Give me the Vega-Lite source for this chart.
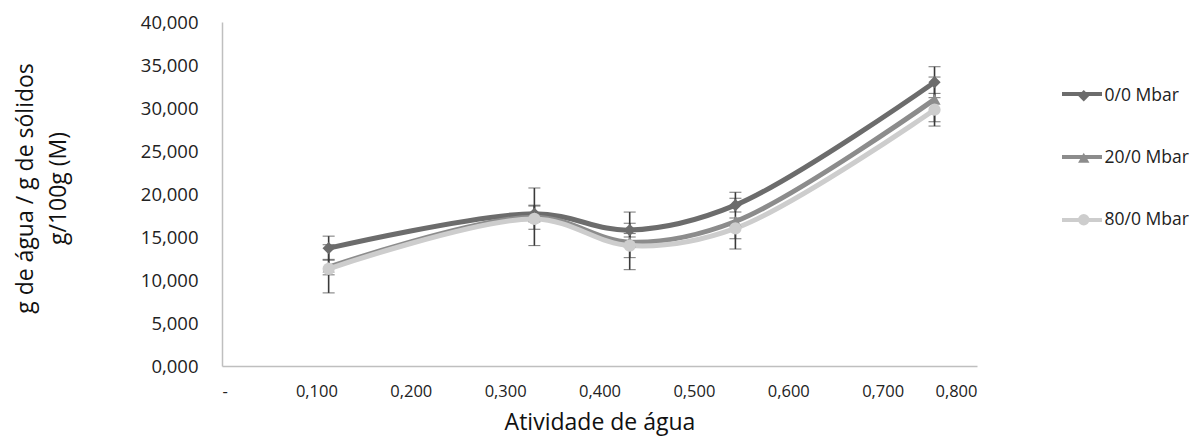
{
  "$schema": "https://vega.github.io/schema/vega-lite/v6.json",
  "width": 755,
  "height": 344,
  "autosize": {"type": "none"},
  "padding": {"left": 222, "top": 22, "right": 214, "bottom": 70},
  "background": "white",
  "config": {
    "view": {"stroke": null},
    "font": "Open Sans",
    "axis": {"grid": false, "ticks": false, "domainColor": "#bfbfbf", "domainWidth": 1.5, "labelColor": "#222", "titleColor": "#111", "labelFontSize": 16.5, "titleFontSize": 23, "titleFontWeight": "normal"}
  },
  "data": {"values": [
    {"aw": 0.113, "serie": "0/0 Mbar", "M": 13.7, "lo": 12.3, "hi": 15.1},
    {"aw": 0.331, "serie": "0/0 Mbar", "M": 17.7, "lo": 16.8, "hi": 18.6},
    {"aw": 0.432, "serie": "0/0 Mbar", "M": 15.8, "lo": 15.0, "hi": 16.6},
    {"aw": 0.544, "serie": "0/0 Mbar", "M": 18.7, "lo": 17.9, "hi": 19.5},
    {"aw": 0.755, "serie": "0/0 Mbar", "M": 33.0, "lo": 31.2, "hi": 34.8},
    {"aw": 0.113, "serie": "20/0 Mbar", "M": 11.5, "lo": 10.6, "hi": 12.4},
    {"aw": 0.331, "serie": "20/0 Mbar", "M": 17.3, "lo": 15.9, "hi": 18.7},
    {"aw": 0.432, "serie": "20/0 Mbar", "M": 14.4, "lo": 11.2, "hi": 17.9},
    {"aw": 0.544, "serie": "20/0 Mbar", "M": 16.8, "lo": 13.6, "hi": 20.2},
    {"aw": 0.755, "serie": "20/0 Mbar", "M": 31.0, "lo": 28.4, "hi": 33.6},
    {"aw": 0.113, "serie": "80/0 Mbar", "M": 11.3, "lo": 8.5, "hi": 14.1},
    {"aw": 0.331, "serie": "80/0 Mbar", "M": 17.1, "lo": 14.0, "hi": 20.7},
    {"aw": 0.432, "serie": "80/0 Mbar", "M": 14.0, "lo": 12.6, "hi": 15.4},
    {"aw": 0.544, "serie": "80/0 Mbar", "M": 16.0, "lo": 14.8, "hi": 17.2},
    {"aw": 0.755, "serie": "80/0 Mbar", "M": 29.8, "lo": 27.9, "hi": 31.7}
  ]},
  "encoding": {
    "x": {"field": "aw", "type": "quantitative",
      "scale": {"domain": [0, 0.8], "nice": false, "zero": true},
      "axis": {"values": [0, 0.1, 0.2, 0.3, 0.4, 0.5, 0.6, 0.7, 0.8], "labelPadding": 17, "titlePadding": 12,
        "labelExpr": "datum.value == 0 ? '-' : replace(format(datum.value, '.3f'), '.', ',')",
        "title": "Atividade de água"}}
  },
  "layer": [
    {
      "mark": {"type": "errorbar", "ticks": {"size": 12, "color": "#3a3a3a", "strokeWidth": 1.6}, "rule": {"color": "#3a3a3a", "strokeWidth": 1.6}},
      "encoding": {
        "y": {"field": "lo", "type": "quantitative", "scale": {"domain": [0, 40], "nice": false},
          "axis": {"values": [0, 5, 10, 15, 20, 25, 30, 35, 40], "labelPadding": 24, "labelFontSize": 18.5,
            "labelExpr": "replace(format(datum.value, '.3f'), '.', ',')",
            "title": ["g de água / g de sólidos", "g/100g (M)"], "titleAngle": -90, "titleX": -197, "titleY": 166, "titleAlign": "center", "titleBaseline": "middle", "titleLineHeight": 33}},
        "y2": {"field": "hi"}
      }
    },
    {
      "mark": {"type": "line", "interpolate": "catmull-rom", "strokeWidth": 5},
      "encoding": {
        "y": {"field": "M", "type": "quantitative"},
        "stroke": {"field": "serie", "type": "nominal",
          "scale": {"domain": ["0/0 Mbar", "20/0 Mbar", "80/0 Mbar"], "range": ["#6c6c6c", "#8c8c8c", "#cdcdcd"]},
          "legend": {"title": null, "orient": "none", "legendX": 838, "legendY": 50, "zindex": 1, "symbolType": "stroke", "symbolSize": 1600, "symbolStrokeWidth": 4, "labelFontSize": 17, "labelExpr": "''", "rowPadding": 33, "labelOffset": 0, "symbolOffset": 0}}
      }
    },
    {
      "mark": {"type": "point", "filled": true, "size": 150, "opacity": 1},
      "encoding": {
        "y": {"field": "M", "type": "quantitative"},
        "color": {"field": "serie", "type": "nominal",
          "scale": {"range": ["#6c6c6c", "#8c8c8c", "#cdcdcd"]},
          "legend": {"title": null, "orient": "none", "legendX": 853, "legendY": 65, "zindex": 2, "symbolSize": 130, "symbolOpacity": 1, "labelFontSize": 17.5, "labelColor": "#222", "rowPadding": 43, "labelOffset": 12, "symbolOffset": 0}},
        "shape": {"field": "serie", "type": "nominal",
          "scale": {"range": ["diamond", "triangle-up", "circle"]},
          "legend": {"title": null, "orient": "none", "legendX": 853, "legendY": 65, "zindex": 2, "symbolSize": 130, "symbolOpacity": 1, "labelFontSize": 17.5, "labelColor": "#222", "rowPadding": 43, "labelOffset": 12, "symbolOffset": 0}}
      }
    }
  ]
}
